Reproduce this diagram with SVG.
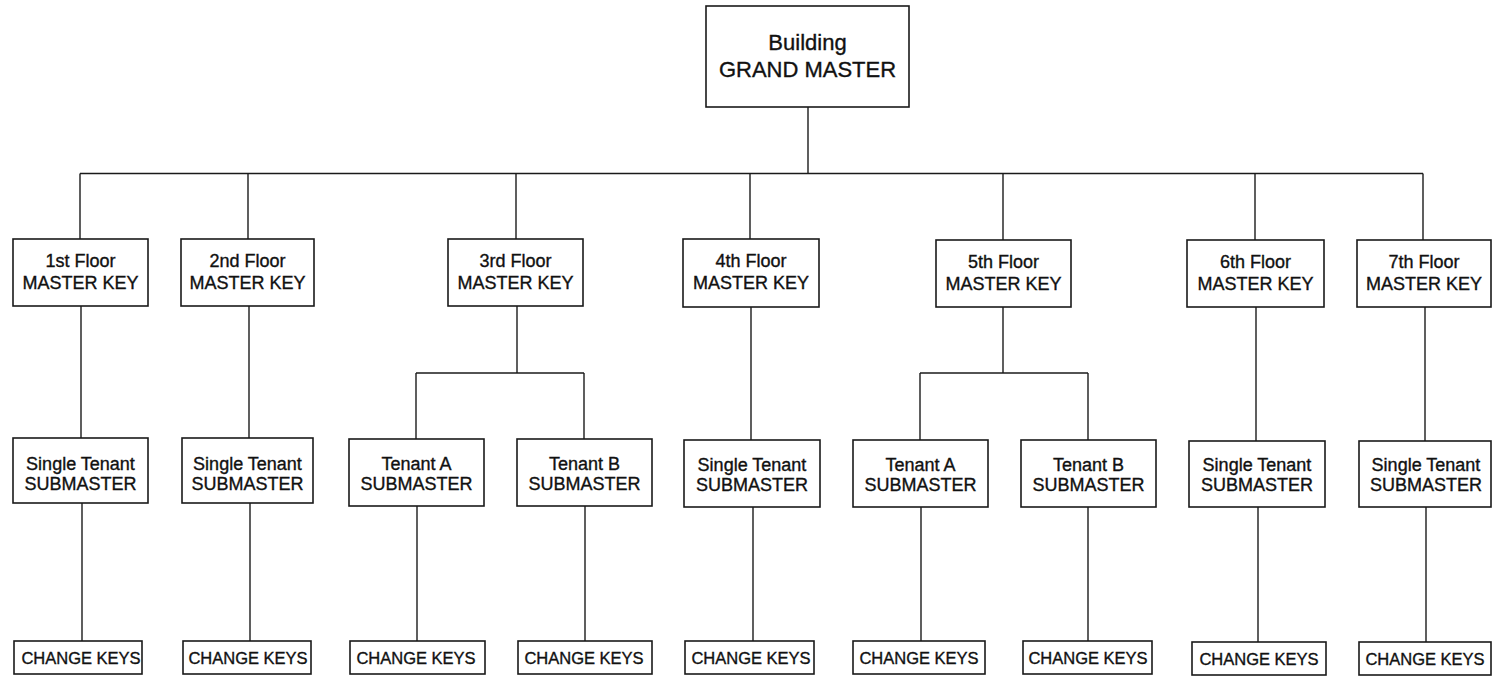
<svg xmlns="http://www.w3.org/2000/svg" width="1492" height="676" viewBox="0 0 1492 676">
<style>
rect.b{fill:#fff;stroke:#1a1a1a;stroke-width:1.6}
#connectors line{stroke:#1a1a1a;stroke-width:1.4}
text{font-family:"Liberation Sans",Arial,sans-serif;fill:#111;stroke:#111;stroke-width:0.35;text-anchor:middle}
.t{font-size:22px}
.m{font-size:18px}
.c{font-size:16.5px}
</style>
<rect width="1492" height="676" fill="#fff"/>
<g id="connectors">
<line x1="808" y1="107" x2="808" y2="173.5"/>
<line x1="80" y1="173.5" x2="1423" y2="173.5"/>
<line x1="80" y1="173.5" x2="80" y2="239"/>
<line x1="248" y1="173.5" x2="248" y2="239"/>
<line x1="516" y1="173.5" x2="516" y2="239"/>
<line x1="750" y1="173.5" x2="750" y2="239"/>
<line x1="1003" y1="173.5" x2="1003" y2="240"/>
<line x1="1255" y1="173.5" x2="1255" y2="240"/>
<line x1="1423" y1="173.5" x2="1423" y2="240"/>
<line x1="81" y1="306" x2="81" y2="438"/>
<line x1="249" y1="306" x2="249" y2="438"/>
<line x1="517" y1="306" x2="517" y2="373"/>
<line x1="416" y1="373" x2="584" y2="373"/>
<line x1="416" y1="373" x2="416" y2="439"/>
<line x1="584" y1="373" x2="584" y2="439"/>
<line x1="751" y1="307" x2="751" y2="440"/>
<line x1="1003" y1="307" x2="1003" y2="373"/>
<line x1="920" y1="373" x2="1088" y2="373"/>
<line x1="920" y1="373" x2="920" y2="440"/>
<line x1="1088" y1="373" x2="1088" y2="440"/>
<line x1="1256" y1="307" x2="1256" y2="441"/>
<line x1="1425" y1="307" x2="1425" y2="441"/>
<line x1="82" y1="503" x2="82" y2="641"/>
<line x1="250" y1="503" x2="250" y2="641"/>
<line x1="417" y1="506" x2="417" y2="641"/>
<line x1="585" y1="506" x2="585" y2="641"/>
<line x1="753" y1="507" x2="753" y2="641"/>
<line x1="921" y1="507" x2="921" y2="641"/>
<line x1="1088" y1="507" x2="1088" y2="641"/>
<line x1="1258" y1="507" x2="1258" y2="642"/>
<line x1="1426" y1="507" x2="1426" y2="642"/>
</g>
<g id="grand"><rect class="b" x="706" y="6" width="203" height="101"/><text class="t" x="807.5" y="50">Building</text><text class="t" x="807.5" y="77">GRAND MASTER</text></g>
<g id="f1"><rect class="b" x="13" y="239" width="135" height="67"/><text class="m" x="80.5" y="267">1st Floor</text><text class="m" x="80.5" y="289">MASTER KEY</text></g>
<g id="f2"><rect class="b" x="181" y="239" width="133" height="67"/><text class="m" x="247.5" y="267">2nd Floor</text><text class="m" x="247.5" y="289">MASTER KEY</text></g>
<g id="f3"><rect class="b" x="448" y="239" width="135" height="67"/><text class="m" x="515.5" y="267">3rd Floor</text><text class="m" x="515.5" y="289">MASTER KEY</text></g>
<g id="f4"><rect class="b" x="683" y="239" width="136" height="68"/><text class="m" x="751" y="267">4th Floor</text><text class="m" x="751" y="289">MASTER KEY</text></g>
<g id="f5"><rect class="b" x="936" y="240" width="135" height="67"/><text class="m" x="1003.5" y="268">5th Floor</text><text class="m" x="1003.5" y="290">MASTER KEY</text></g>
<g id="f6"><rect class="b" x="1187" y="240" width="137" height="67"/><text class="m" x="1255.5" y="268">6th Floor</text><text class="m" x="1255.5" y="290">MASTER KEY</text></g>
<g id="f7"><rect class="b" x="1357" y="240" width="134" height="67"/><text class="m" x="1424" y="268">7th Floor</text><text class="m" x="1424" y="290">MASTER KEY</text></g>
<g id="s1"><rect class="b" x="13" y="438" width="135" height="65"/><text class="m" x="80.5" y="470">Single Tenant</text><text class="m" x="80.5" y="490">SUBMASTER</text></g>
<g id="s2"><rect class="b" x="182" y="438" width="131" height="65"/><text class="m" x="247.5" y="470">Single Tenant</text><text class="m" x="247.5" y="490">SUBMASTER</text></g>
<g id="s3a"><rect class="b" x="349" y="439" width="135" height="67"/><text class="m" x="416.5" y="470">Tenant A</text><text class="m" x="416.5" y="490">SUBMASTER</text></g>
<g id="s3b"><rect class="b" x="517" y="439" width="135" height="67"/><text class="m" x="584.5" y="470">Tenant B</text><text class="m" x="584.5" y="490">SUBMASTER</text></g>
<g id="s4"><rect class="b" x="684" y="440" width="136" height="67"/><text class="m" x="752" y="471">Single Tenant</text><text class="m" x="752" y="491">SUBMASTER</text></g>
<g id="s5a"><rect class="b" x="853" y="440" width="135" height="67"/><text class="m" x="920.5" y="471">Tenant A</text><text class="m" x="920.5" y="491">SUBMASTER</text></g>
<g id="s5b"><rect class="b" x="1021" y="440" width="135" height="67"/><text class="m" x="1088.5" y="471">Tenant B</text><text class="m" x="1088.5" y="491">SUBMASTER</text></g>
<g id="s6"><rect class="b" x="1189" y="441" width="136" height="66"/><text class="m" x="1257" y="471">Single Tenant</text><text class="m" x="1257" y="491">SUBMASTER</text></g>
<g id="s7"><rect class="b" x="1359" y="441" width="132" height="66"/><text class="m" x="1426" y="471">Single Tenant</text><text class="m" x="1426" y="491">SUBMASTER</text></g>
<g id="c1"><rect class="b" x="14" y="641" width="128" height="33"/><text class="c" x="81" y="664">CHANGE KEYS</text></g>
<g id="c2"><rect class="b" x="183" y="641" width="128" height="33"/><text class="c" x="248" y="664">CHANGE KEYS</text></g>
<g id="c3a"><rect class="b" x="350" y="641" width="135" height="33"/><text class="c" x="416" y="664">CHANGE KEYS</text></g>
<g id="c3b"><rect class="b" x="518" y="641" width="134" height="33"/><text class="c" x="584" y="664">CHANGE KEYS</text></g>
<g id="c4"><rect class="b" x="685" y="641" width="129" height="33"/><text class="c" x="751" y="664">CHANGE KEYS</text></g>
<g id="c5a"><rect class="b" x="853" y="641" width="132" height="33"/><text class="c" x="919" y="664">CHANGE KEYS</text></g>
<g id="c5b"><rect class="b" x="1023" y="641" width="129" height="33"/><text class="c" x="1088" y="664">CHANGE KEYS</text></g>
<g id="c6"><rect class="b" x="1192" y="642" width="134" height="33"/><text class="c" x="1259" y="665">CHANGE KEYS</text></g>
<g id="c7"><rect class="b" x="1359" y="642" width="132" height="33"/><text class="c" x="1425" y="665">CHANGE KEYS</text></g>
</svg>
